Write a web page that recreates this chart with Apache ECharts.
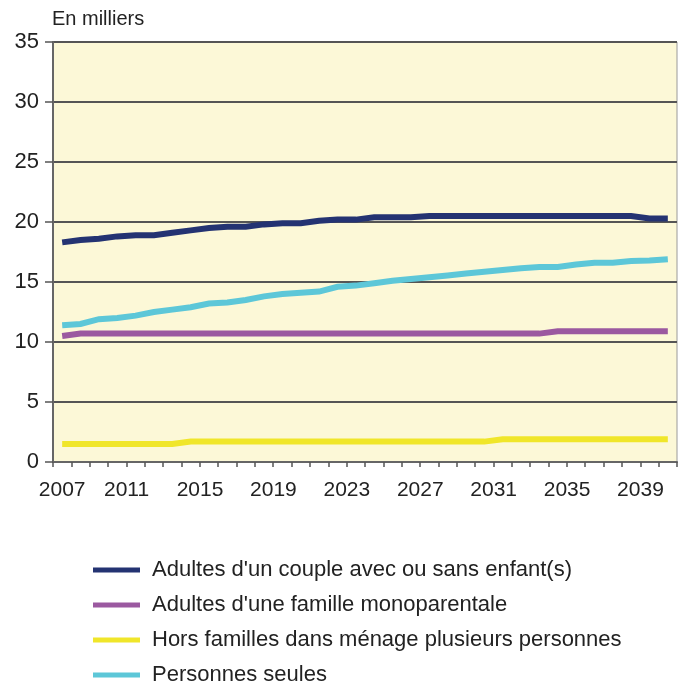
<!DOCTYPE html>
<html>
<head>
<meta charset="utf-8">
<script src="https://cdn.jsdelivr.net/npm/echarts@6/dist/echarts.min.js"></script>
<style>
html,body{margin:0;padding:0;background:#fff;}
#c{width:684px;height:684px;}
</style>
</head>
<body>
<div id="c"></div>
<script>
const years = [];
for (let y = 2007; y <= 2040; y++) years.push(String(y));

const seriesNames = [
  "Adultes d'un couple avec ou sans enfant(s)",
  "Adultes d'une famille monoparentale",
  "Hors familles dans ménage plusieurs personnes",
  "Personnes seules"
];

const couple = [18.3, 18.5, 18.6, 18.8, 18.9, 18.9, 19.1, 19.3, 19.5, 19.6, 19.6, 19.8, 19.9, 19.9, 20.1, 20.2, 20.2,
  20.4, 20.4, 20.4, 20.5, 20.5, 20.5, 20.5, 20.5, 20.5, 20.5, 20.5, 20.5, 20.5, 20.5, 20.5, 20.3, 20.3];
const monoparentale = [10.5, 10.7, 10.7, 10.7, 10.7, 10.7, 10.7, 10.7, 10.7, 10.7, 10.7, 10.7, 10.7, 10.7, 10.7, 10.7, 10.7,
  10.7, 10.7, 10.7, 10.7, 10.7, 10.7, 10.7, 10.7, 10.7, 10.7, 10.9, 10.9, 10.9, 10.9, 10.9, 10.9, 10.9];
const horsFamilles = [1.5, 1.5, 1.5, 1.5, 1.5, 1.5, 1.5, 1.7, 1.7, 1.7, 1.7, 1.7, 1.7, 1.7, 1.7, 1.7, 1.7,
  1.7, 1.7, 1.7, 1.7, 1.7, 1.7, 1.7, 1.9, 1.9, 1.9, 1.9, 1.9, 1.9, 1.9, 1.9, 1.9, 1.9];
const seules = [11.4, 11.5, 11.9, 12.0, 12.2, 12.5, 12.7, 12.9, 13.2, 13.3, 13.5, 13.8, 14.0, 14.1, 14.2, 14.6, 14.7,
  14.9, 15.1, 15.25, 15.4, 15.55, 15.7, 15.85, 16.0, 16.15, 16.25, 16.25, 16.45, 16.6, 16.6, 16.75, 16.8, 16.9];

const colors = ['#243372', '#9B59A0', '#F0E62A', '#5DC7D8'];
const values = [couple, monoparentale, horsFamilles, seules];
const legendTops = [559, 594, 629, 664];

const chart = echarts.init(document.getElementById('c'), null, {renderer: 'canvas'});
const font = '"Liberation Sans", Arial, sans-serif';

chart.setOption({
  animation: false,
  textStyle: {fontFamily: font},
  title: {
    text: 'En milliers',
    left: 52, top: 9, padding: 0,
    textStyle: {fontFamily: font, fontSize: 20, fontWeight: 'normal', color: '#222'}
  },
  grid: {
    left: 53, right: 7, top: 42, bottom: 222,
    show: true, backgroundColor: '#FCF8D7', borderColor: '#9a9a9a', borderWidth: 1
  },
  legend: seriesNames.map((n, i) => ({
    orient: 'vertical',
    left: 93, top: legendTops[i],
    padding: 0,
    icon: 'rect',
    itemWidth: 47, itemHeight: 5,
    textStyle: {fontFamily: font, fontSize: 22, color: '#222', padding: [0, 0, 0, 7]},
    data: [n]
  })),
  xAxis: {
    type: 'category',
    data: years,
    boundaryGap: true,
    axisLine: {lineStyle: {color: '#666', width: 2}},
    axisTick: {show: true, interval: 0, length: 5, inside: false, lineStyle: {color: '#555', width: 1.5}},
    axisLabel: {
      interval: 3, fontSize: 21, color: '#222', margin: 18, fontFamily: font,
      formatter: function (v, i) { return i === 0 ? '{f|' + v + '}' : '{o|' + v + '}'; },
      rich: {
        f: {fontSize: 21, color: '#222', fontFamily: font, padding: [0, 0, 0, 0]},
        o: {fontSize: 21, color: '#222', fontFamily: font, padding: [0, 18, 0, 0]}
      }
    },
    splitLine: {show: false}
  },
  yAxis: {
    type: 'value',
    min: 0, max: 35, interval: 5,
    axisLine: {show: true, lineStyle: {color: '#666', width: 2}},
    axisTick: {show: true, length: 8, lineStyle: {color: '#555', width: 1.5}},
    axisLabel: {fontSize: 22, color: '#222', margin: 14, fontFamily: font},
    splitLine: {show: true, lineStyle: {color: '#555', width: 2}}
  },
  series: seriesNames.map((n, i) => ({
    name: n,
    type: 'line',
    data: values[i],
    symbol: 'none',
    showSymbol: false,
    lineStyle: {color: colors[i], width: 6, cap: 'butt', join: 'miter'},
    itemStyle: {color: colors[i]},
    z: 3
  }))
});
</script>
</body>
</html>
